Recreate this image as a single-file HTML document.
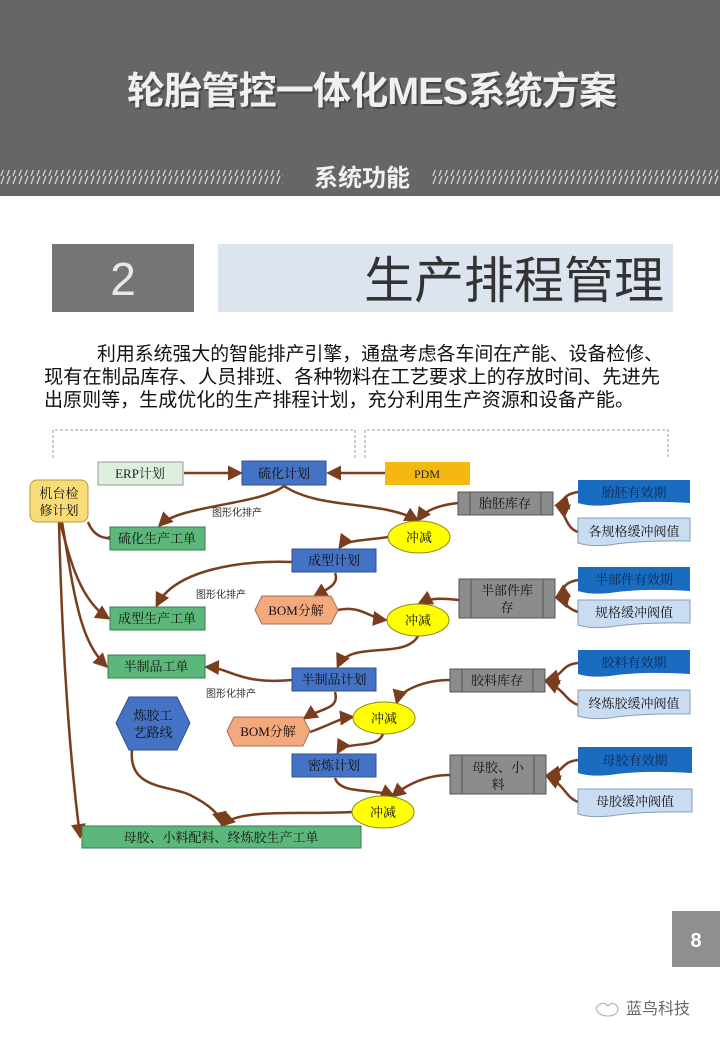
<!DOCTYPE html>
<html><head><meta charset="utf-8">
<style>
html,body{margin:0;padding:0;background:#fff;}
body{width:720px;height:1040px;overflow:hidden;position:relative;font-family:"Liberation Sans","Noto Sans CJK SC",sans-serif;}
</style></head><body>
<svg width="720" height="1040" viewBox="0 0 720 1040" xmlns="http://www.w3.org/2000/svg" style="position:absolute;left:0;top:0">
<defs>
<pattern id="st" width="6" height="8" patternUnits="userSpaceOnUse">
<line x1="1" y1="8" x2="4" y2="0" stroke="#d8d8d8" stroke-width="1.2"/>
</pattern>
<marker id="ar" viewBox="0 0 10 10" refX="8" refY="5" markerWidth="6" markerHeight="6" orient="auto-start-reverse">
<path d="M0,0 L10,5 L0,10 z" fill="#7a3e1e"/>
</marker>
</defs>
<!-- header -->
<rect x="0" y="0" width="720" height="196" fill="#666666"/>
<text x="374" y="106" text-anchor="middle" font-size="38" font-weight="bold" fill="#333" opacity="0.6" font-family="Liberation Sans,Noto Sans CJK SC,sans-serif" textLength="490">轮胎管控一体化MES系统方案</text>
<text x="372" y="104" text-anchor="middle" font-size="38" font-weight="bold" fill="#f0f0f0" font-family="Liberation Sans,Noto Sans CJK SC,sans-serif" textLength="490">轮胎管控一体化MES系统方案</text>
<rect x="0" y="170" width="283" height="14" fill="url(#st)"/>
<rect x="432" y="170" width="288" height="14" fill="url(#st)"/>
<text x="362" y="186" text-anchor="middle" font-size="24" font-weight="bold" fill="#f2f2f2">系统功能</text>
<!-- section title -->
<rect x="52" y="244" width="142" height="68" fill="#757575"/>
<text x="123" y="295" text-anchor="middle" font-size="46" fill="#e8e8e8">2</text>
<rect x="218" y="244" width="455" height="68" fill="#dce5ef"/>
<text x="664" y="298" text-anchor="end" font-size="50" fill="#333">生产排程管理</text>
<!-- paragraph -->
<g font-size="19" fill="#111">
<text x="97" y="360" textLength="566" lengthAdjust="spacingAndGlyphs">利用系统强大的智能排产引擎，通盘考虑各车间在产能、设备检修、</text>
<text x="44" y="383" textLength="616" lengthAdjust="spacingAndGlyphs">现有在制品库存、人员排班、各种物料在工艺要求上的存放时间、先进先</text>
<text x="44" y="406" textLength="590" lengthAdjust="spacingAndGlyphs">出原则等，生成优化的生产排程计划，充分利用生产资源和设备产能。</text>
</g>
<!-- dashed brackets -->
<g fill="none" stroke="#999" stroke-dasharray="3,2" stroke-width="1">
<path d="M53,458 V430 H355 V458"/>
<path d="M365,458 V430 H668 V458"/>
</g>
<!-- connectors -->
<g fill="none" stroke="#7a3e1e" stroke-width="2.5" marker-end="url(#ar)">
<path d="M184,473 H240"/>
<path d="M385,473 H329"/>
<path d="M284,486 C260,505 180,505 160,525"/>
<path d="M284,486 C320,510 380,500 417,520"/>
<path d="M458,503 C440,505 425,510 418,520"/>
<path d="M388,537 C370,540 345,540 340,547"/>
<path d="M578,492 C560,495 565,503 557,505"/>
<path d="M578,532 C565,528 565,510 557,506"/>
<path d="M292,562 C240,560 175,570 157,605"/>
<path d="M335,573 C340,585 325,590 315,596"/>
<path d="M338,610 C360,605 370,618 385,620"/>
<path d="M459,600 C440,598 430,598 420,603"/>
<path d="M578,580 C560,583 565,592 557,597"/>
<path d="M578,612 C565,608 565,600 557,598"/>
<path d="M418,636 C405,660 350,640 338,666"/>
<path d="M292,680 C240,685 230,668 207,667"/>
<path d="M335,692 C340,710 320,708 305,718"/>
<path d="M310,732 C330,725 340,718 352,717"/>
<path d="M450,680 C425,680 400,690 397,702"/>
<path d="M578,663 C560,665 565,675 547,680"/>
<path d="M578,705 C565,700 565,690 547,682"/>
<path d="M383,733 C380,750 345,740 338,752"/>
<path d="M335,778 C340,795 375,788 393,796"/>
<path d="M450,775 C420,775 400,790 393,796"/>
<path d="M578,760 C560,762 565,772 548,775"/>
<path d="M578,802 C565,797 565,785 548,777"/>
<path d="M352,812 C300,815 240,808 222,825"/>
<path d="M132,750 C128,790 170,785 190,795 C210,805 220,815 222,824"/>
<path d="M88,522 C95,540 110,538 108,538"/>
<path d="M60,522 C70,560 80,600 108,618"/>
<path d="M62,522 C75,600 80,640 106,666"/>
<path d="M59,522 C62,650 70,760 80,836"/>
</g>
<!-- nodes -->
<g font-family="Liberation Serif,Noto Serif CJK SC,serif" font-size="13" text-anchor="middle">
<rect x="98" y="462" width="85" height="23" fill="#dcefdc" stroke="#999"/>
<text x="140" y="478" fill="#222">ERP计划</text>
<rect x="242" y="461" width="84" height="24" fill="#4472c4" stroke="#2f528f"/>
<text x="284" y="478" fill="#111">硫化计划</text>
<rect x="385" y="462" width="85" height="23" fill="#f5b812"/>
<text x="427" y="478" fill="#222" font-size="12">PDM</text>
<rect x="30" y="480" width="58" height="42" rx="7" fill="#f9db78" stroke="#b89b40"/>
<text x="59" y="498" fill="#111">机台检</text>
<text x="59" y="515" fill="#111">修计划</text>
<!-- stocks -->
<g fill="#8c8c8c" stroke="#555">
<rect x="458" y="492" width="95" height="23"/>
<rect x="459" y="579" width="96" height="39"/>
<rect x="450" y="669" width="95" height="23"/>
<rect x="450" y="755" width="96" height="39"/>
</g>
<g stroke="#555"><path d="M470,492V515M541,492V515M471,579V618M543,579V618M462,669V692M533,669V692M462,755V794M534,755V794"/></g>
<text x="505" y="508" fill="#111">胎胚库存</text>
<text x="507" y="595" fill="#111">半部件库</text>
<text x="507" y="612" fill="#111">存</text>
<text x="497" y="685" fill="#111">胶料库存</text>
<text x="498" y="772" fill="#111">母胶、小</text>
<text x="498" y="789" fill="#111">料</text>
<!-- right docs -->
<g fill="#1a6cc0">
<path d="M578,480 H690 V503 Q640,500 610,505 Q590,507 578,503Z"/>
<path d="M578,567 H690 V591 Q640,588 610,593 Q590,595 578,591Z"/>
<path d="M578,650 H690 V674 Q640,671 610,676 Q590,678 578,674Z"/>
<path d="M578,747 H692 V773 Q640,770 610,775 Q590,777 578,773Z"/>
</g>
<g fill="#c9dcf2" stroke="#8a9db5">
<path d="M578,518 H690 V541 Q640,540 610,545 Q590,547 578,543Z"/>
<path d="M578,600 H690 V623 Q640,622 610,627 Q590,629 578,625Z"/>
<path d="M578,690 H690 V714 Q640,713 610,718 Q590,720 578,716Z"/>
<path d="M578,789 H692 V812 Q640,811 610,816 Q590,818 578,814Z"/>
</g>
<text x="634" y="497" fill="#0b2a55">胎胚有效期</text>
<text x="634" y="536" fill="#111">各规格缓冲阀值</text>
<text x="634" y="584" fill="#0b2a55">半部件有效期</text>
<text x="634" y="617" fill="#111">规格缓冲阀值</text>
<text x="634" y="667" fill="#0b2a55">胶料有效期</text>
<text x="634" y="708" fill="#111">终炼胶缓冲阀值</text>
<text x="635" y="765" fill="#0b2a55">母胶有效期</text>
<text x="635" y="806" fill="#111">母胶缓冲阀值</text>
<!-- work orders -->
<g fill="#5cb87a" stroke="#3a7a50">
<rect x="110" y="527" width="95" height="23"/>
<rect x="110" y="607" width="95" height="23"/>
<rect x="108" y="655" width="97" height="23"/>
<rect x="82" y="826" width="279" height="22"/>
</g>
<text x="157" y="543" fill="#111">硫化生产工单</text>
<text x="157" y="623" fill="#111">成型生产工单</text>
<text x="156" y="671" fill="#111">半制品工单</text>
<text x="221" y="842" fill="#111">母胶、小料配料、终炼胶生产工单</text>
<!-- plans -->
<g fill="#4472c4" stroke="#2f528f">
<rect x="292" y="549" width="84" height="23"/>
<rect x="292" y="668" width="84" height="23"/>
<rect x="292" y="754" width="84" height="23"/>
</g>
<text x="334" y="565" fill="#111">成型计划</text>
<text x="334" y="684" fill="#111">半制品计划</text>
<text x="334" y="770" fill="#111">密炼计划</text>
<!-- BOM -->
<g fill="#f4a97c" stroke="#a0705a">
<path d="M262,596 H331 L338,610 L331,624 H262 L255,610Z"/>
<path d="M234,717 H303 L310,731 L303,746 H234 L227,731Z"/>
</g>
<text x="296" y="615" fill="#111">BOM分解</text>
<text x="268" y="736" fill="#111">BOM分解</text>
<path d="M129,697 H177 L190,723 L177,750 H129 L116,723Z" fill="#4472c4" stroke="#2f528f"/>
<text x="153" y="720" fill="#111">炼胶工</text>
<text x="153" y="737" fill="#111">艺路线</text>
<!-- ellipses -->
<g fill="#ffff00" stroke="#8a8a20">
<ellipse cx="419" cy="537" rx="31" ry="16"/>
<ellipse cx="418" cy="620" rx="31" ry="16"/>
<ellipse cx="384" cy="718" rx="31" ry="16"/>
<ellipse cx="383" cy="812" rx="31" ry="16"/>
</g>
<text x="419" y="542" fill="#111">冲减</text>
<text x="418" y="625" fill="#111">冲减</text>
<text x="384" y="723" fill="#111">冲减</text>
<text x="383" y="817" fill="#111">冲减</text>
<g font-size="10" fill="#333" font-family="Liberation Sans,Noto Sans CJK SC,sans-serif">
<text x="237" y="516">图形化排产</text>
<text x="221" y="598">图形化排产</text>
<text x="231" y="697">图形化排产</text>
</g>
</g>
<!-- page number -->
<rect x="672" y="911" width="48" height="56" fill="#8f8f8f"/>
<text x="696" y="947" text-anchor="middle" font-size="20" font-weight="bold" fill="#fff">8</text>
<!-- logo -->
<g fill="none" stroke="#aaa" stroke-width="1">
<path d="M596,1008 q6,-8 12,-2 q6,-6 10,2 q0,8 -10,8 q-10,0 -12,-8z"/>
</g>
<text x="626" y="1014" font-size="16" fill="#666">蓝鸟科技</text>
</svg>
</body></html>
